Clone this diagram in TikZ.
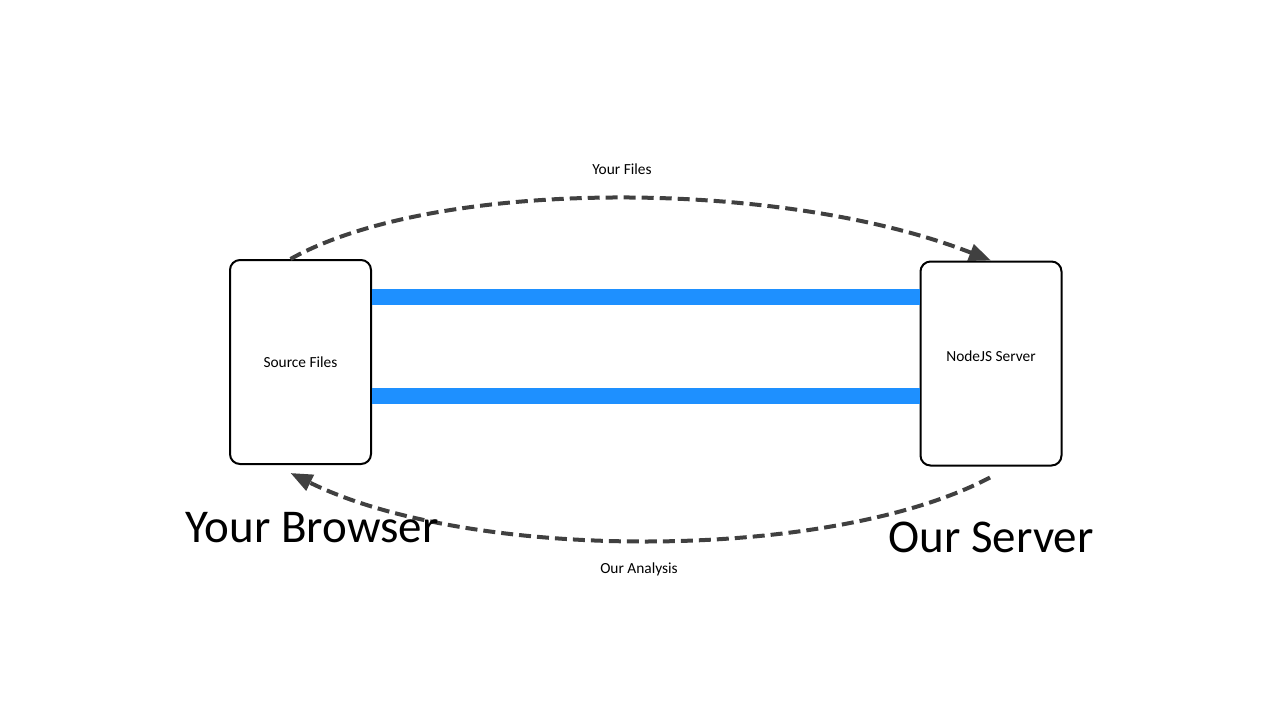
\documentclass[tikz,border=0pt]{standalone}
\usepackage{fontspec}
\setmainfont{Carlito}
\usetikzlibrary{arrows.meta,calc,positioning}
\definecolor{pipeblue}{RGB}{30,144,255}
\definecolor{flowgray}{RGB}{64,64,64}
\tikzset{
  endbox/.style={draw=black,line width=1pt,rounded corners=5pt,minimum width=70.5pt,minimum height=102pt,font=\fontsize{7.7}{9}\selectfont},
  pipe/.style={draw=pipeblue,line width=8pt},
  flowarrow/.style={draw=flowgray,line width=2pt,dash pattern=on 6pt off 3pt,-{Triangle[length=11pt,width=8.5pt]}},
  small/.style={font=\fontsize{7.7}{9}\selectfont},
  big/.style={font=\fontsize{23.5}{28}\selectfont}
}
\begin{document}
\begin{tikzpicture}[x=0.5pt,y=-0.5pt]
    \useasboundingbox (0,0) rectangle (1280,720);
    \node[endbox] (src) at (300.5,362) {\raisebox{-1.5pt}{Source Files}};
    \node[endbox] (srv) at (991,363.5) {\raisebox{7pt}{NodeJS Server}};
    % the two pipes between browser and server
    \draw[pipe] (src.east |- 0,297) -- (srv.west |- 0,297);
    \draw[pipe] (src.east |- 0,396) -- (srv.west |- 0,396);
    \draw[flowarrow] ($(src.north)+(-10,0)$) .. controls (435,178) and (780,178) .. (srv.north);
    \draw[flowarrow] ($(srv.south)+(-1,11)$) .. controls (830,562) and (470,562) .. ($(src.south)+(-10,8)$);
    \node[small] (filesLbl) at (622,169) {Your Files};
    \node[small] (analysisLbl) at (639,569) {Our Analysis};
    \node[big] (browserLbl) at (312,528) {Your Browser};
    \node[big] (serverLbl) at (991,537) {Our Server};
\end{tikzpicture}
\end{document}
